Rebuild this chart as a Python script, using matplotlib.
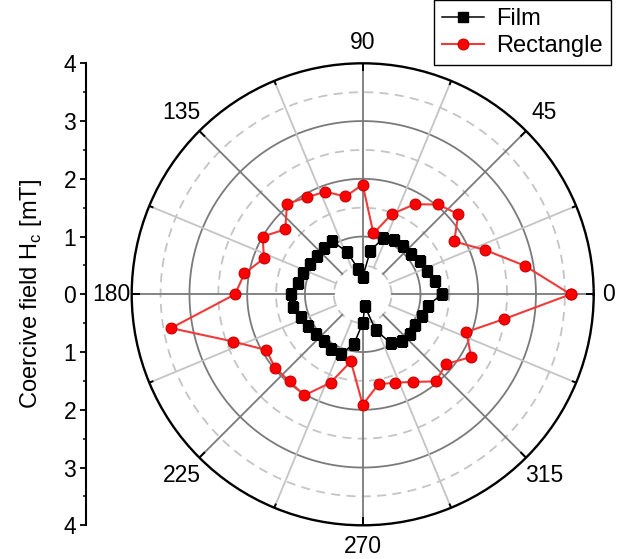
import numpy as np
import matplotlib.pyplot as plt
from matplotlib.ticker import MultipleLocator, FuncFormatter

plt.rcParams['font.family'] = ['Liberation Sans', 'DejaVu Sans']
plt.rcParams['mathtext.fontset'] = 'custom'
plt.rcParams['mathtext.rm'] = 'Liberation Sans'

# measurement angles (deg) and coercive field (mT)
angles = np.arange(0, 360, 10)
film = [1.37, 1.28, 1.19, 1.14, 1.09, 1.09, 1.08, 1.03, 0.77, 0.30,
        0.44, 0.78, 1.06, 1.04, 1.03, 1.05, 1.10, 1.14, 1.25, 1.23,
        1.14, 1.10, 1.06, 1.05, 1.09, 1.10, 0.87, 0.50, 0.21, 0.66,
        0.98, 1.06, 1.07, 1.05, 1.09, 1.14]
rect = [3.60, 2.85, 2.25, 1.83, 2.16, 2.03, 1.80, 1.48, 1.07, 1.90,
        1.72, 1.89, 1.94, 2.04, 1.75, 2.00, 1.82, 2.08, 2.21, 3.37,
        2.39, 1.93, 1.98, 1.97, 2.02, 1.63, 1.18, 1.91, 1.58, 1.63,
        1.75, 1.97, 1.88, 2.17, 1.91, 2.48]
theta_labels = [0, 45, 90, 135, 180, 225, 270, 315]

fig = plt.figure(figsize=(6.28, 5.59), dpi=100)
ax = fig.add_axes([131.7 / 628, 1 - 525.3 / 559, 462 / 628, 462 / 559],
                  projection='polar')
ax.set_ylim(0, 4)
ax.grid(False)
ax.set_xticks([])
ax.set_yticks([])
ax.spines['polar'].set_linewidth(1.7)

# grid circles
th = np.linspace(0, 2 * np.pi, 400)
for r in [1, 2, 3]:
    ax.plot(th, np.full_like(th, r), color='#7a7a7a', lw=1.3, zorder=1)
for r in [0.5, 1.5, 2.5, 3.5]:
    ax.plot(th, np.full_like(th, r), color='#c4c4c4', lw=1.3,
            dashes=(5, 3.5), zorder=1)

# radial lines and outer ticks
for a in np.arange(0, 360, 22.5):
    t = np.deg2rad(a)
    major = a % 45 == 0
    ax.plot([t, t], [0.5, 4], color='#7a7a7a' if major else '#c4c4c4',
            lw=1.3, zorder=1)
    ax.plot([t, t], [3.88 if major else 3.94, 4], color='k', lw=1.4, zorder=2)

# data
t_film = np.deg2rad(np.append(angles, angles[0]))
ax.plot(t_film, film + film[:1], '-s', color='k', lw=1.1, ms=7,
        label='Film', zorder=3)
ax.plot(t_film, rect + rect[:1], '-o', color='#f03a3a', lw=1.5, ms=7.8,
        mfc='#ff0000', mec='#c80000', mew=0.8, label='Rectangle', zorder=4)

# theta labels
for a in theta_labels:
    r = 4.26 if a == 0 else (4.36 if a % 90 == 0 else 4.44)
    ax.text(np.deg2rad(a), r, str(a), ha='center', va='center', fontsize=16.5)

# linear scale on the left
ax2 = fig.add_axes([86 / 628, 1 - 525.3 / 559, 0.0001, 462 / 559])
ax2.set_ylim(-4, 4)
for s in ['right', 'top', 'bottom']:
    ax2.spines[s].set_visible(False)
ax2.spines['left'].set_linewidth(1.5)
ax2.set_xticks([])
ax2.yaxis.set_major_locator(MultipleLocator(1))
ax2.yaxis.set_minor_locator(MultipleLocator(0.5))
ax2.yaxis.set_major_formatter(FuncFormatter(lambda v, p: '%d' % abs(round(v))))
ax2.tick_params(axis='y', which='major', length=4, width=1.3, labelsize=16.5, pad=3)
ax2.tick_params(axis='y', which='minor', length=2.5, width=1.1)
ax2.set_ylabel('Coercive field H$_\\mathregular{c}$ [mT]', fontsize=17, labelpad=14)

fig.legend(loc='upper right', bbox_to_anchor=(611 / 628, 1.0), fontsize=17,
           frameon=True, fancybox=False, edgecolor='k', framealpha=1,
           borderpad=0.35, handlelength=1.8, handletextpad=0.5,
           labelspacing=0.2, borderaxespad=0)

fig.savefig('out.png', dpi=100)
